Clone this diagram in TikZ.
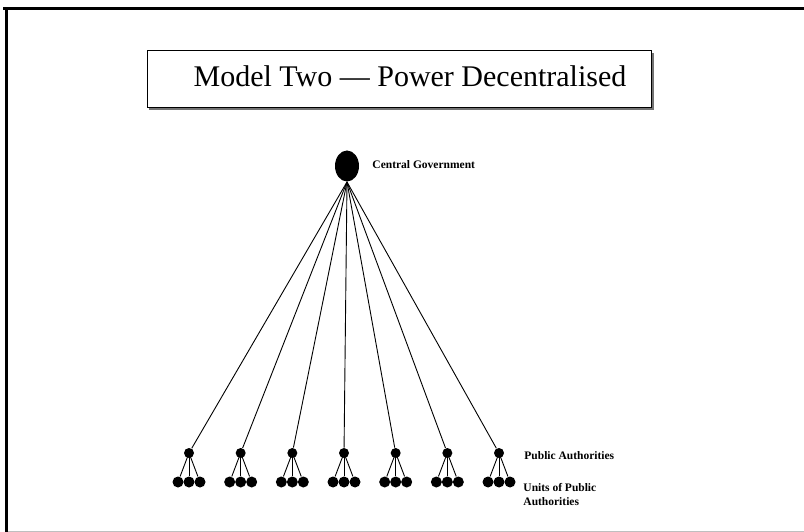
\documentclass[tikz,border=0pt]{standalone}
\usepackage{fontspec}
\setmainfont{Liberation Serif}
\usepackage{tikz}
\usetikzlibrary{shapes.geometric}

\tikzset{
  govdot/.style={ellipse,fill=black,inner sep=0pt,minimum width=24pt,minimum height=31pt},
  padot/.style={circle,fill=black,inner sep=0pt,minimum size=10pt},
  unitdot/.style={circle,fill=black,inner sep=0pt,minimum size=11pt},
  lbl/.style={font=\fontsize{11.5}{14}\selectfont\bfseries,inner sep=0pt,align=left}
}

\begin{document}
\begin{tikzpicture}[x=1pt,y=-1pt,line width=0.9pt]
  \useasboundingbox (0,0) rectangle (804,532);
  % outer frame
  \draw[line width=2.5pt] (3,8.5) -- (804,8.5);
  \draw[line width=2.5pt] (6.5,8.5) -- (6.5,532);
  \draw[black!25,line width=1pt] (8,531) -- (804,531);

  % title box
  \draw[black!55,line width=2.5pt] (149,109) -- (653,109) -- (653,53);
  \draw[line width=1pt,fill=white] (147,51) rectangle (651,107.5);
  \node[anchor=base,inner sep=0pt,font=\fontsize{30}{36}\selectfont] (title) at (410,87) {Model Two — Power Decentralised};

  % central government
  \node[govdot] (cg) at (347,166) {};
  \node[lbl,anchor=base west] (cglbl) at (372,169) {Central Government};

  % public authorities and their units
  \foreach \i in {1,...,7} {
    \pgfmathsetmacro\px{189+51.67*(\i-1)}
    \node[padot] (pa\i) at (\px,453) {};
    \node[unitdot] (u\i a) at (\px-11,482) {};
    \node[unitdot] (u\i b) at (\px,482) {};
    \node[unitdot] (u\i c) at (\px+11,482) {};
    \draw (cg.south) -- (pa\i);
    \foreach \j in {a,b,c}
      \draw (pa\i.center) -- (u\i\j);
  }

  \node[lbl,anchor=base west] (palbl) at (524,459) {Public Authorities};
  \node[lbl,anchor=north west] (ulbl) at (523,482.5) {Units of Public\\Authorities};
\end{tikzpicture}
\end{document}
